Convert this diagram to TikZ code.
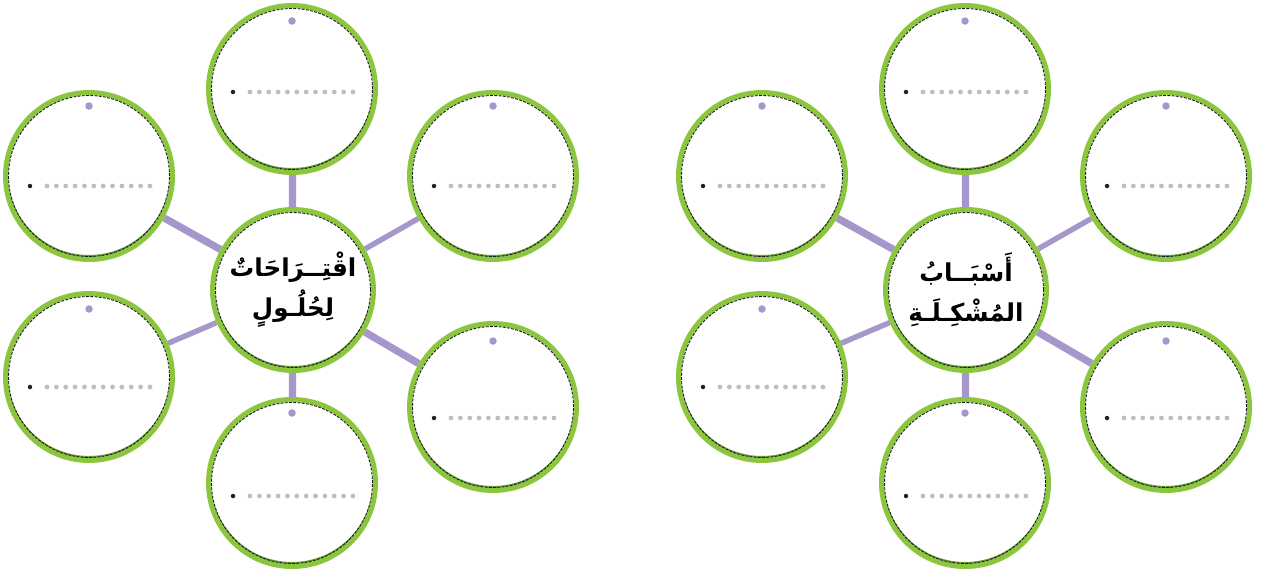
\documentclass[tikz,border=0pt]{standalone}
\usepackage{fontspec}
\newfontfamily\arabicfont[Script=Arabic]{DejaVu Sans}
\TeXXeTstate=1
\usetikzlibrary{backgrounds}

\definecolor{ringgreen}{HTML}{8CC63F}
\definecolor{ringshade}{HTML}{6BA23A}
\definecolor{spokepurple}{HTML}{A596CB}
\definecolor{dotgrey}{HTML}{BCBEC0}
\definecolor{dotink}{HTML}{231F20}

\tikzset{
  bubble/.style={circle, draw=ringgreen, line width=0.1cm, fill=white, minimum size=3.34cm, inner sep=0pt},
  hub/.style={bubble, minimum size=3.22cm, font=\arabicfont\bfseries\fontsize{14}{23}\selectfont, align=center},
  dashrim/.style={draw=black!90, line width=0.5pt, dash pattern=on 1.6pt off 0.8pt},
  thickspoke/.style={draw=spokepurple, line width=0.146cm},
  thinspoke/.style={draw=spokepurple, line width=0.108cm},
  purpledot/.style={fill=spokepurple},
  greydot/.style={fill=dotgrey},
  inkdot/.style={fill=dotink}
}

\begin{document}
\begin{tikzpicture}[x=0.02cm, y=-0.02cm]
\useasboundingbox (0,0) rectangle (1261,575);

% centre bubbles
\node[hub] (L-hub) at (293,290) {\beginR اقْتِــرَاحَاتٌ\endR\\\beginR لِحُلُـولٍ\endR};
\node[hub] (R-hub) at (966,290) {\beginR أَسْبَــابُ\endR\\\beginR المُشْكِـلَـةِ\endR};
\foreach \h in {L-hub, R-hub} {
  \begin{scope}
    \clip (\h.center) circle (1.56cm);
    \fill[ringshade, even odd rule] (\h.center) circle (1.56cm) ([yshift=0.04cm]\h.center) circle (1.56cm);
  \end{scope}
  \draw[dashrim] (\h.center) circle (1.55cm);
}

% outer bubbles with writing lines
\foreach \s/\dx in {L/0, R/673} {
  \foreach \n/\x/\y/\py/\ry in {t/292/89/21/92, ul/89/176/106/186, ur/493/176/106/186, ll/89/377/309/387, lr/493/407/341/418, b/292/483/413/496} {
    \node[bubble] (\s-\n) at (\x+\dx,\y) {};
    \begin{scope}
      \clip (\s-\n.center) circle (1.62cm);
      \fill[ringshade, even odd rule] (\s-\n.center) circle (1.62cm) ([yshift=0.04cm]\s-\n.center) circle (1.62cm);
    \end{scope}
    \draw[dashrim] (\s-\n.center) circle (1.61cm);
    \fill[purpledot] (\x+\dx,\py) circle (0.075cm);
    \fill[inkdot] (\x+\dx-59,\ry) circle (0.045cm);
    \foreach \i in {0,...,11}
      \fill[greydot] (\x+\dx-42+9.36*\i,\ry) circle (0.048cm);
  }
}

% spokes
\begin{scope}[on background layer]
  \foreach \s in {L,R} {
    \draw[thickspoke] (\s-hub) -- (\s-t);
    \draw[thickspoke] (\s-hub) -- (\s-ul);
    \draw[thinspoke] (\s-hub) -- (\s-ur);
    \draw[thinspoke] (\s-hub) -- (\s-ll);
    \draw[thickspoke] (\s-hub) -- (\s-lr);
    \draw[thickspoke] (\s-hub) -- (\s-b);
  }
\end{scope}
\end{tikzpicture}
\end{document}
